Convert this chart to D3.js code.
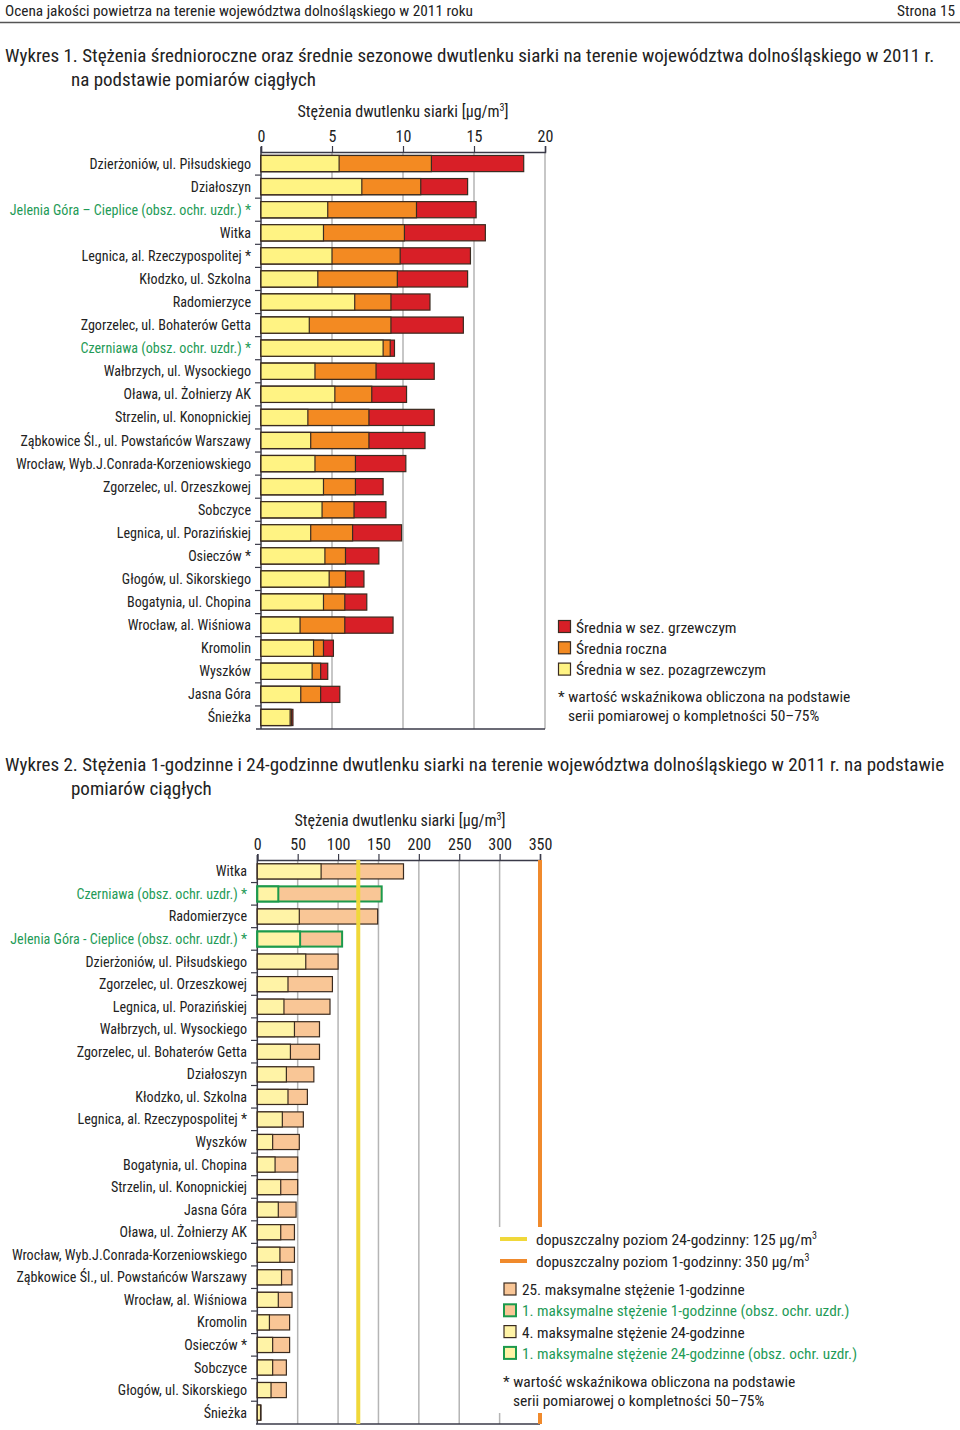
<!DOCTYPE html>
<html><head><meta charset="utf-8">
<script src="https://cdn.jsdelivr.net/npm/d3@7"></script>
<style>
html,body{margin:0;padding:0;background:#fff;}
svg{display:block;}
text{font-family:"Liberation Sans Narrow","Arial Narrow","Roboto Condensed","Liberation Sans",sans-serif;fill:#222;}
</style></head>
<body>
<svg id="c" width="960" height="1430"></svg>
<script>
// ---------- DATA: Wykres 1 ----------
const stations1 = ["Dzierżoniów, ul. Piłsudskiego","Działoszyn","Jelenia Góra – Cieplice (obsz. ochr. uzdr.) *","Witka","Legnica, al. Rzeczypospolitej *","Kłodzko, ul. Szkolna","Radomierzyce","Zgorzelec, ul. Bohaterów Getta","Czerniawa (obsz. ochr. uzdr.) *","Wałbrzych, ul. Wysockiego","Oława, ul. Żołnierzy AK","Strzelin, ul. Konopnickiej","Ząbkowice Śl., ul. Powstańców Warszawy","Wrocław, Wyb.J.Conrada-Korzeniowskiego","Zgorzelec, ul. Orzeszkowej","Sobczyce","Legnica, ul. Porazińskiej","Osieczów *","Głogów, ul. Sikorskiego","Bogatynia, ul. Chopina","Wrocław, al. Wiśniowa","Kromolin","Wyszków","Jasna Góra","Śnieżka"];
const summer1 = [5.5,7.1,4.7,4.4,5.0,4.0,6.6,3.4,8.6,3.8,5.2,3.3,3.5,3.8,4.4,4.3,3.5,4.5,4.8,4.4,2.75,3.7,3.6,2.8,2.05];
const annual1 = [12.0,11.25,10.95,10.1,9.8,9.6,9.15,9.15,9.1,8.1,7.8,7.6,7.6,6.65,6.65,6.55,6.45,5.95,5.95,5.9,5.9,4.4,4.2,4.2,2.15];
const winter1 = [18.5,14.55,15.15,15.8,14.75,14.55,11.9,14.25,9.4,12.2,10.25,12.2,11.55,10.2,8.6,8.8,9.9,8.3,7.25,7.45,9.3,5.1,4.7,5.55,2.25];
const ticks1 = [0,5,10,15,20];

// ---------- DATA: Wykres 2 ----------
const stations2 = ["Witka","Czerniawa (obsz. ochr. uzdr.) *","Radomierzyce","Jelenia Góra - Cieplice (obsz. ochr. uzdr.) *","Dzierżoniów, ul. Piłsudskiego","Zgorzelec, ul. Orzeszkowej","Legnica, ul. Porazińskiej","Wałbrzych, ul. Wysockiego","Zgorzelec, ul. Bohaterów Getta","Działoszyn","Kłodzko, ul. Szkolna","Legnica, al. Rzeczypospolitej *","Wyszków","Bogatynia, ul. Chopina","Strzelin, ul. Konopnickiej","Jasna Góra","Oława, ul. Żołnierzy AK","Wrocław, Wyb.J.Conrada-Korzeniowskiego","Ząbkowice Śl., ul. Powstańców Warszawy","Wrocław, al. Wiśniowa","Kromolin","Osieczów *","Sobczyce","Głogów, ul. Sikorskiego","Śnieżka"];
const max24h = [79,26,52,53,60,38,33,46,41,36,38,31,19,22,29,26,29,28,30,26,15,19,19,17,4];
const max1h = [181,154,149,105,100,93,90,77,77,70,62,57,52,50,50,48,46,46,43,43,40,40,36,36,4.6];
const ticks2 = [0,50,100,150,200,250,300,350];
const limit24h = 125, limit1h = 350;

// ---------- STYLE ----------
const C = {yellow:"#fff383", orange:"#f38a22", red:"#d81f27", stroke:"#3a2b20",
  y2:"#fff3a6", peach:"#f9c696", green:"#1c9a4c", grid:"#b5b5b5", axis:"#3a3a48",
  lim24:"#f0d83a", lim1:"#f08a2c", text:"#222", gtext:"#1f9b57"};
const isGreen = s => s.indexOf("obsz. ochr. uzdr.") >= 0;
const LAB = 14.1;

const svg = d3.select("#c");

// Header
svg.append("text").attr("x",5).attr("y",16).attr("font-size",15.3).text("Ocena jakości powietrza na terenie województwa dolnośląskiego w 2011 roku");
svg.append("text").attr("x",955).attr("y",16).attr("font-size",15.3).attr("text-anchor","end").text("Strona 15");
svg.append("line").attr("x1",0).attr("x2",960).attr("y1",22.5).attr("y2",22.5).attr("stroke","#555").attr("stroke-width",1.5);

// Titles
svg.append("text").attr("x",5).attr("y",62).attr("font-size",19).text("Wykres 1. Stężenia średnioroczne oraz średnie sezonowe dwutlenku siarki na terenie województwa dolnośląskiego w 2011 r.");
svg.append("text").attr("x",71).attr("y",86).attr("font-size",19).text("na podstawie pomiarów ciągłych");
svg.append("text").attr("x",5).attr("y",771).attr("font-size",19).text("Wykres 2. Stężenia 1-godzinne i 24-godzinne dwutlenku siarki na terenie województwa dolnośląskiego w 2011 r. na podstawie");
svg.append("text").attr("x",71).attr("y",795).attr("font-size",19).text("pomiarów ciągłych");

function axisTitle(x, y){
  const t = svg.append("text").attr("x",x).attr("y",y).attr("font-size",16).attr("text-anchor","middle");
  t.append("tspan").text("Stężenia dwutlenku siarki [µg/m");
  t.append("tspan").attr("font-size",10).attr("dy",-6).text("3");
  t.append("tspan").attr("dy",6).text("]");
}

// ---------- CHART 1 ----------
{
  const x = d3.scaleLinear().domain([0,20]).range([261,545]);
  const y = d3.scaleBand().domain(stations1).range([152,729]).paddingInner(0.3).paddingOuter(0.15);
  const step = y.step();
  axisTitle(403,117);
  const g = svg.append("g");
  g.selectAll("line.grid").data(ticks1.filter(d=>d>0)).join("line")
    .attr("x1",d=>x(d)).attr("x2",d=>x(d)).attr("y1",152).attr("y2",729)
    .attr("stroke",C.grid).attr("stroke-width",1.5);
  const top = d3.axisTop(x).tickValues(ticks1).tickSize(6).tickPadding(4).tickFormat(d3.format("d"));
  const ga = g.append("g").attr("transform","translate(0,152)").call(top);
  ga.attr("font-family",null);
  ga.select(".domain").attr("stroke",C.axis).attr("stroke-width",1.5);
  ga.selectAll(".tick line").attr("stroke",C.axis).attr("stroke-width",1.2);
  ga.selectAll(".tick text").attr("font-size",16).attr("fill",C.text);
  g.append("line").attr("x1",256).attr("x2",545).attr("y1",729).attr("y2",729).attr("stroke",C.axis).attr("stroke-width",1.5);
  g.append("line").attr("x1",261).attr("x2",261).attr("y1",147).attr("y2",729).attr("stroke",C.axis).attr("stroke-width",1.5);
  g.selectAll("line.lt").data(d3.range(1,stations1.length)).join("line")
    .attr("x1",255).attr("x2",261).attr("y1",i=>152+i*step).attr("y2",i=>152+i*step)
    .attr("stroke",C.axis).attr("stroke-width",1.2);
  const rows = stations1.map((s,i)=>({s, su:summer1[i], an:annual1[i], wi:winter1[i]}));
  const layers = [["wi",C.red],["an",C.orange],["su",C.yellow]];
  layers.forEach(([k,col])=>{
    g.selectAll("rect."+k).data(rows).join("rect")
      .attr("x",x(0)).attr("y",d=>y(d.s)).attr("height",y.bandwidth())
      .attr("width",d=>x(d[k])-x(0)).attr("fill",col)
      .attr("stroke",C.stroke).attr("stroke-width",1.2);
  });
  g.selectAll("text.lab").data(stations1).join("text")
    .attr("x",251).attr("y",d=>y(d)+y.bandwidth()/2+5).attr("text-anchor","end").attr("font-size",LAB)
    .style("fill",d=>isGreen(d)?C.gtext:C.text).text(d=>d);
  const leg = [["Średnia w sez. grzewczym",C.red],["Średnia roczna",C.orange],["Średnia w sez. pozagrzewczym",C.yellow]];
  leg.forEach(([t,c],i)=>{
    g.append("rect").attr("x",558.5).attr("y",620.5+i*21.3).attr("width",12).attr("height",12).attr("fill",c).attr("stroke",C.stroke).attr("stroke-width",1.2);
    g.append("text").attr("x",576).attr("y",632.5+i*21.3).attr("font-size",15.5).text(t);
  });
  g.append("text").attr("x",558).attr("y",702).attr("font-size",15.5).text("* wartość wskaźnikowa obliczona na podstawie");
  g.append("text").attr("x",568).attr("y",721).attr("font-size",15.5).text("serii pomiarowej o kompletności 50–75%");
}

// ---------- CHART 2 ----------
{
  const x = d3.scaleLinear().domain([0,350]).range([257.3,540]);
  const y = d3.scaleBand().domain(stations2).range([860,1424]).paddingInner(0.33).paddingOuter(0.17);
  const step = y.step();
  axisTitle(400,826);
  const g = svg.append("g");
  g.selectAll("line.grid").data(ticks2.filter(d=>d>0 && d<350)).join("line")
    .attr("x1",d=>x(d)).attr("x2",d=>x(d)).attr("y1",860).attr("y2",1424)
    .attr("stroke",C.grid).attr("stroke-width",1.5);
  const top = d3.axisTop(x).tickValues(ticks2).tickSize(6).tickPadding(4).tickFormat(d3.format("d"));
  const ga = g.append("g").attr("transform","translate(0,860)").call(top);
  ga.attr("font-family",null);
  ga.select(".domain").attr("stroke",C.axis).attr("stroke-width",1.5);
  ga.selectAll(".tick line").attr("stroke",C.axis).attr("stroke-width",1.2);
  ga.selectAll(".tick text").attr("font-size",16).attr("fill",C.text);
  g.append("line").attr("x1",256).attr("x2",540).attr("y1",1424).attr("y2",1424).attr("stroke",C.axis).attr("stroke-width",1.5);
  g.append("line").attr("x1",257.3).attr("x2",257.3).attr("y1",855).attr("y2",1424).attr("stroke",C.axis).attr("stroke-width",1.5);
  g.selectAll("line.lt").data(d3.range(1,stations2.length)).join("line")
    .attr("x1",251).attr("x2",257).attr("y1",i=>860+i*step).attr("y2",i=>860+i*step)
    .attr("stroke",C.axis).attr("stroke-width",1.2);
  const rows = stations2.map((s,i)=>({s, h24:max24h[i], h1:max1h[i], gr:isGreen(s)}));
  [["h1",C.peach],["h24",C.y2]].forEach(([k,col])=>{
    g.selectAll("rect."+k).data(rows).join("rect")
      .attr("x",x(0)).attr("y",d=>y(d.s)).attr("height",y.bandwidth())
      .attr("width",d=>x(d[k])-x(0)).attr("fill",col)
      .attr("stroke",d=>d.gr?C.green:C.stroke).attr("stroke-width",d=>d.gr?2:1.2);
  });
  g.append("line").attr("x1",x(limit24h)).attr("x2",x(limit24h)).attr("y1",860).attr("y2",1424).attr("stroke",C.lim24).attr("stroke-width",4);
  g.append("line").attr("x1",x(limit1h)).attr("x2",x(limit1h)).attr("y1",860).attr("y2",1424).attr("stroke",C.lim1).attr("stroke-width",4);
  g.selectAll("text.lab").data(stations2).join("text")
    .attr("x",247).attr("y",d=>y(d)+y.bandwidth()/2+5).attr("text-anchor","end").attr("font-size",LAB)
    .style("fill",d=>isGreen(d)?C.gtext:C.text).text(d=>d);
  g.append("rect").attr("x",492).attr("y",1227).attr("width",400).attr("height",186).attr("fill","#fff");
  const ll = [[C.lim24,"dopuszczalny poziom 24-godzinny: 125 µg/m",1239],[C.lim1,"dopuszczalny poziom 1-godzinny: 350 µg/m",1261]];
  ll.forEach(([c,t,yy])=>{
    g.append("line").attr("x1",500).attr("x2",527).attr("y1",yy).attr("y2",yy).attr("stroke",c).attr("stroke-width",4);
    const tx = g.append("text").attr("x",536).attr("y",yy+6).attr("font-size",15.5);
    tx.append("tspan").text(t);
    tx.append("tspan").attr("font-size",10).attr("dy",-6).text("3");
  });
  const sq = [[C.peach,C.stroke,"25. maksymalne stężenie 1-godzinne",C.text],
              [C.peach,C.green,"1. maksymalne stężenie 1-godzinne (obsz. ochr. uzdr.)",C.gtext],
              [C.y2,C.stroke,"4. maksymalne stężenie 24-godzinne",C.text],
              [C.y2,C.green,"1. maksymalne stężenie 24-godzinne (obsz. ochr. uzdr.)",C.gtext]];
  sq.forEach(([f,s,t,tc],i)=>{
    g.append("rect").attr("x",504).attr("y",1283+i*21.3).attr("width",12).attr("height",12).attr("fill",f).attr("stroke",s).attr("stroke-width",s===C.green?2:1.2);
    g.append("text").attr("x",522).attr("y",1295+i*21.3).attr("font-size",15.3).style("fill",tc).text(t);
  });
  g.append("text").attr("x",503).attr("y",1387).attr("font-size",15.5).text("* wartość wskaźnikowa obliczona na podstawie");
  g.append("text").attr("x",513).attr("y",1406).attr("font-size",15.5).text("serii pomiarowej o kompletności 50–75%");
}
</script>
</body></html>
